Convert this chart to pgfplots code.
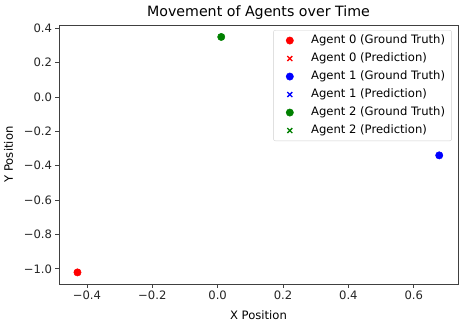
\documentclass[border=0pt]{standalone}
\usepackage{fontspec}
\setmainfont{DejaVu Sans}
\usepackage{pgfplots}
\pgfplotsset{compat=1.18}

\definecolor{mplgreen}{HTML}{008000}

\begin{document}
\begin{tikzpicture}
\begin{axis}[
    scale only axis,
    width=399pt, height=259pt,
    title={Movement of Agents over Time},
    title style={font=\fontsize{14.2}{16}\selectfont,
        at={(axis description cs:0.5,1)}, anchor=center, yshift=6.5pt},
    xlabel={X Position},
    ylabel={Y Position},
    label style={font=\fontsize{11.6}{14}\selectfont},
    xlabel style={at={(axis description cs:0.5,0)}, anchor=center, yshift=-31pt},
    ylabel style={at={(axis description cs:0,0.5)}, anchor=center, yshift=50.5pt},
    xmin=-0.4855, xmax=0.7355,
    ymin=-1.0885, ymax=0.4185,
    xtick={-0.4,-0.2,0,0.2,0.4,0.6},
    xticklabels={−0.4,−0.2,0.0,0.2,0.4,0.6},
    ytick={-1.0,-0.8,-0.6,-0.4,-0.2,0,0.2,0.4},
    yticklabels={−1.0,−0.8,−0.6,−0.4,−0.2,0.0,0.2,0.4},
    tick label style={font=\fontsize{11.6}{14}\selectfont, color=black!85},
    tick align=outside,
    major tick length=3.5pt,
    xtick pos=bottom, ytick pos=left,
    axis line style={line width=0.8pt, black!75},
    every tick/.style={black!75, line width=0.8pt},
    legend cell align=left,
    legend image code/.code={
        \path[draw=none, fill=none] (0pt,0pt) -- (13.5pt,0pt);
        \draw[#1, /tikz/only marks] plot coordinates {(9.8pt,0pt)};
    },
    legend style={
        at={(0.9845,0.9805)}, anchor=north east,
        draw=black!18, rounded corners=2pt,
        font=\fontsize{11.6}{14}\selectfont,
        inner xsep=6.6pt, inner ysep=4.8pt,
        row sep=7pt, column sep=17.6pt,
        nodes={inner sep=0pt, text height=8.5pt, text depth=2.5pt},
    },
]

% Agent 0
\addplot[only marks, mark=*, mark size=3.7pt, color=red]
    coordinates {(-0.429,-1.021)};
\addlegendentry{Agent 0 (Ground Truth)}
\addplot[only marks, mark=x, mark size=3.5pt, line width=1.3pt, color=red]
    coordinates {(-0.429,-1.021)};
\addlegendentry{Agent 0 (Prediction)}

% Agent 1
\addplot[only marks, mark=*, mark size=3.7pt, color=blue]
    coordinates {(0.678,-0.340)};
\addlegendentry{Agent 1 (Ground Truth)}
\addplot[only marks, mark=x, mark size=3.5pt, line width=1.3pt, color=blue]
    coordinates {(0.678,-0.340)};
\addlegendentry{Agent 1 (Prediction)}

% Agent 2
\addplot[only marks, mark=*, mark size=3.7pt, color=mplgreen]
    coordinates {(0.011,0.349)};
\addlegendentry{Agent 2 (Ground Truth)}
\addplot[only marks, mark=x, mark size=3.5pt, line width=1.3pt, color=mplgreen]
    coordinates {(0.011,0.349)};
\addlegendentry{Agent 2 (Prediction)}

\end{axis}
\pgfresetboundingbox
\path (-59pt,-45pt) rectangle (403pt,284pt);
\end{tikzpicture}
\end{document}
